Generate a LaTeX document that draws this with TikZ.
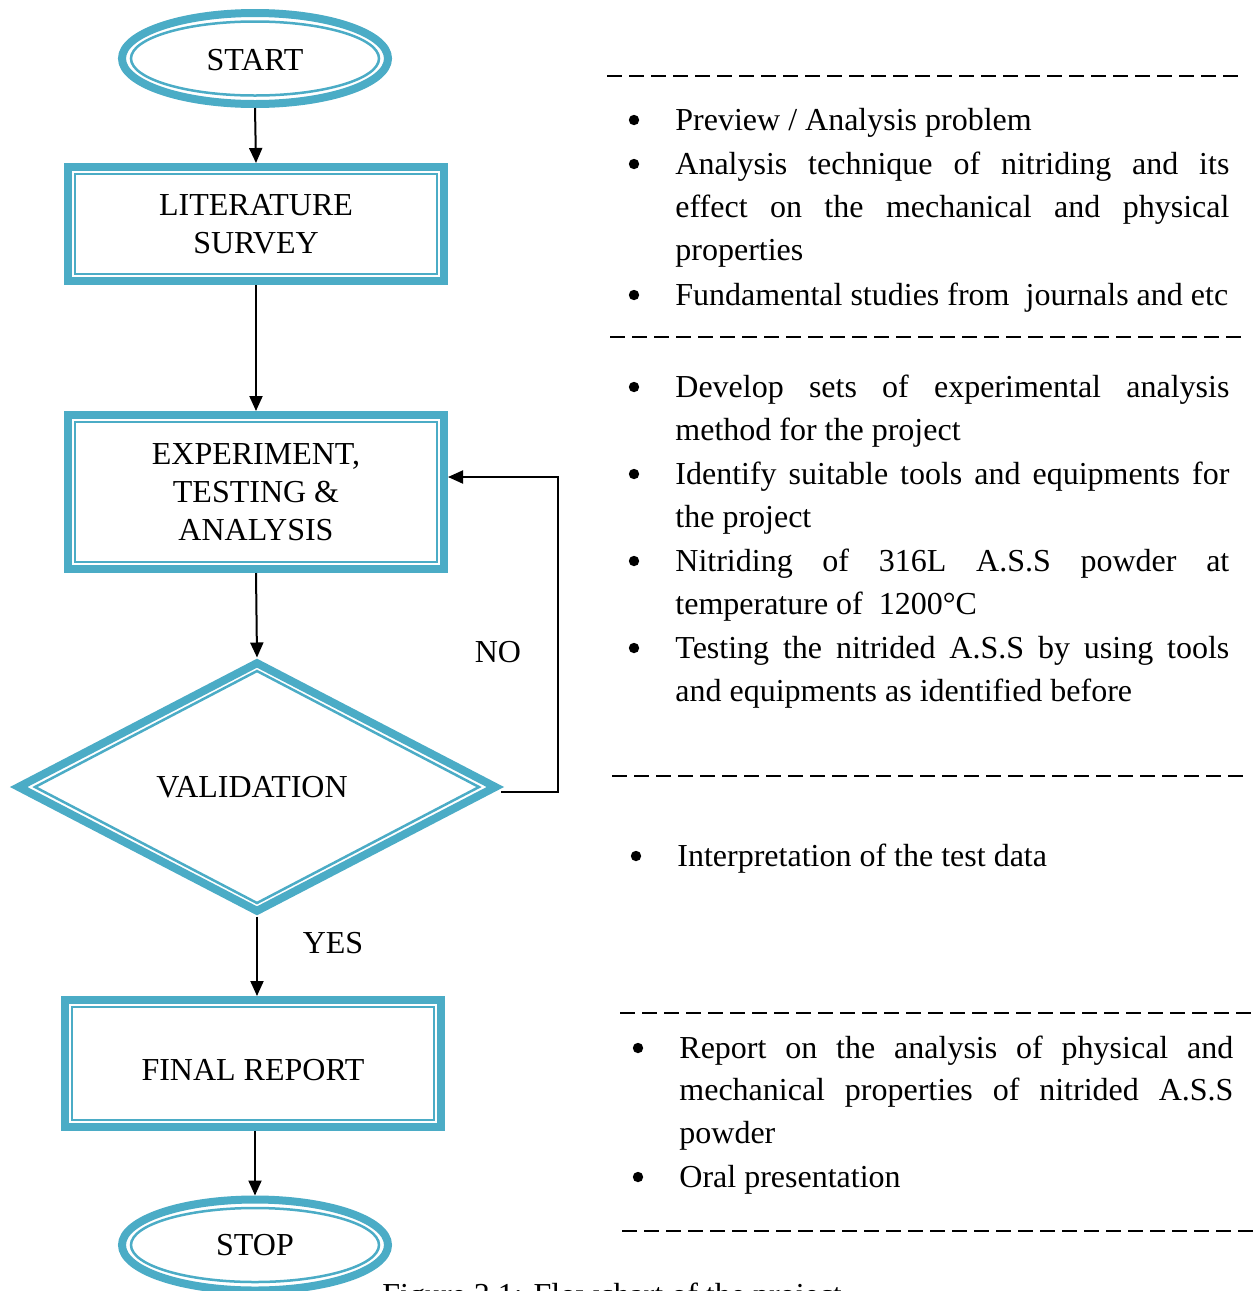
\documentclass[tikz,border=0pt]{standalone}
\usepackage{fontspec}
\setmainfont{Liberation Serif}
\usetikzlibrary{shapes.geometric,arrows.meta}
\definecolor{aqua}{HTML}{4BACC6}
\begin{document}
\begin{tikzpicture}[x=0.5pt,y=-0.5pt,
  every node/.style={font=\fontsize{16}{19}\selectfont, inner sep=0pt},
  band/.style={draw=aqua, line width=4pt, fill=white},
  thinband/.style={draw=aqua, line width=1.25pt},
  termbox/.style={band, ellipse, minimum width=133pt, minimum height=45.5pt},
  procbox/.style={band, rectangle, minimum width=188pt, align=center},
  decbox/.style={band, diamond, minimum width=240pt, minimum height=125.5pt},
  flow/.style={draw=black, line width=1pt, -{Triangle[length=7.5pt,width=6.5pt]}},
  dashsep/.style={draw=black, line width=1.3pt, dash pattern=on 7.5pt off 3.5pt},
  bul/.style={circle, fill=black, minimum size=5.2pt},
  item/.style={anchor=base west},
]
\useasboundingbox (0,0) rectangle (1259,1291);
\clip (0,0) rectangle (1259,1291);
\fill[white] (0,0) rectangle (1259,1291);

% ---- flowchart shapes ----
\node[termbox, text height=12pt, text depth=0pt] (start) at (255,58.5) {START};
\draw[thinband] (start.center) ellipse [x radius=62pt, y radius=18.5pt];

\node[procbox, minimum height=57pt] (lit) at (256,224) {LITERATURE\\SURVEY};
\draw[thinband] ([shift={(11,11)}]lit.north west) rectangle ([shift={(-11,-11)}]lit.south east);

\node[procbox, minimum height=77pt] (exp) at (256,492) {EXPERIMENT,\\TESTING \&\\ANALYSIS};
\draw[thinband] ([shift={(11,11)}]exp.north west) rectangle ([shift={(-11,-11)}]exp.south east);

\node[decbox] (val) at (257,787) {\hspace*{-5pt}VALIDATION};
\draw[thinband] ([xshift=-111pt]val.center) -- ([yshift=58pt]val.center)
  -- ([xshift=111pt]val.center) -- ([yshift=-58pt]val.center) -- cycle;

\node[procbox, minimum height=63.5pt, text height=17pt, text depth=0pt] (final) at (253,1063.5) {FINAL REPORT};
\draw[thinband] ([shift={(11,11)}]final.north west) rectangle ([shift={(-11,-11)}]final.south east);

\node[termbox] (stop) at (255,1245) {STOP};
\draw[thinband] (stop.center) ellipse [x radius=62pt, y radius=18.5pt];

% ---- connectors ----
\draw[flow] (start.south) -- (lit.north);
\draw[flow] (lit.south) -- (exp.north);
\draw[flow] (exp.south) -- (val.north);
\draw[flow] ([yshift=-2.5pt]val.east) -- ++(57,0) |- ([yshift=7.5pt]exp.east);
\draw[flow] (val.south) -- (val.south |- final.north);
\draw[flow] (final.south -| stop.north) -- (stop.north);

\node (no) at (498,652) {NO};
\node (yes) at (333,943) {YES};

% ---- separators ----
\draw[dashsep] (607,76) -- (1240,76);
\draw[dashsep] (610,337) -- (1243,337);
\draw[dashsep] (612,776) -- (1245,776);
\draw[dashsep] (620,1013) -- (1251,1013);
\draw[dashsep] (622,1231) -- (1255,1231);

% ---- block 1 ----
\node[bul] (u1) at (634,120) {};
\node[item] (t1) at (675,130) {Preview / Analysis problem};
\node[bul] (u2) at (634,164) {};
\node[item] (t2) at (675,174) {\makebox[277pt][s]{Analysis technique of nitriding and its}};
\node[item] (t3) at (675,217) {\makebox[277pt][s]{effect on the mechanical and physical}};
\node[item] (t4) at (675,260) {properties};
\node[bul] (u3) at (634,295) {};
\node[item] (t5) at (675,305) {Fundamental studies from\ \ journals and etc};

% ---- block 2 ----
\node[bul] (u4) at (634,387) {};
\node[item] (t6) at (675,397) {\makebox[277pt][s]{Develop sets of experimental analysis}};
\node[item] (t7) at (675,440) {method for the project};
\node[bul] (u5) at (634,474) {};
\node[item] (t8) at (675,484) {\makebox[277pt][s]{Identify suitable tools and equipments for}};
\node[item] (t9) at (675,527) {the project};
\node[bul] (u6) at (634,561) {};
\node[item] (t10) at (675,571) {\makebox[277pt][s]{Nitriding of 316L A.S.S powder at}};
\node[item] (t11) at (675,614) {temperature of\ \ 1200°C};
\node[bul] (u7) at (634,648) {};
\node[item] (t12) at (675,658) {\makebox[277pt][s]{Testing the nitrided A.S.S by using tools}};
\node[item] (t13) at (675,701) {and equipments as identified before};

% ---- block 3 ----
\node[bul] (u8) at (636,856) {};
\node[item] (t14) at (677,866) {Interpretation of the test data};

% ---- block 4 ----
\node[bul] (u9) at (638,1048) {};
\node[item] (t15) at (679,1058) {\makebox[277pt][s]{Report on the analysis of physical and}};
\node[item] (t16) at (679,1100) {\makebox[277pt][s]{mechanical properties of nitrided A.S.S}};
\node[item] (t17) at (679,1143) {powder};
\node[bul] (u10) at (638,1177) {};
\node[item] (t18) at (679,1187) {Oral presentation};

% ---- caption (cut off at the bottom edge, as in the reference) ----
\node[anchor=base west] (cap) at (382,1305) {Figure 3.1: Flowchart of the project};
\end{tikzpicture}
\end{document}
